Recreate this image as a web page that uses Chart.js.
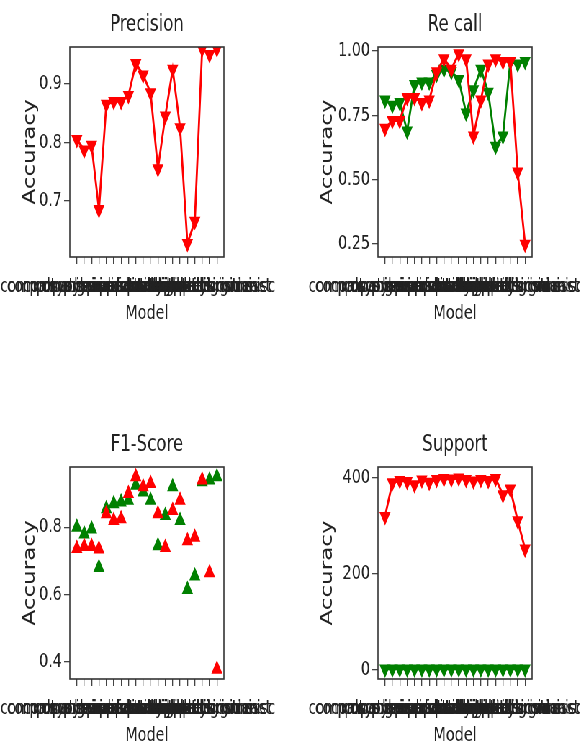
<!DOCTYPE html>
<html>
<head>
<meta charset="utf-8">
<script src="https://cdn.jsdelivr.net/npm/chart.js@4.4.0/dist/chart.umd.min.js"></script>
<style>
  body { margin: 0; background: #fff; overflow: hidden; }
  #wrap { position: relative; width: 806px; height: 756px; transform: scaleX(0.72); transform-origin: 0 0; }
  #wrap canvas { position: absolute; }
</style>
</head>
<body>
<div id="wrap">
  <canvas id="precision" width="403" height="420" style="left:0;top:0"></canvas>
  <canvas id="recall" width="403" height="420" style="left:403px;top:0"></canvas>
  <canvas id="f1" width="403" height="336" style="left:0;top:420px"></canvas>
  <canvas id="support" width="403" height="336" style="left:403px;top:420px"></canvas>
</div>
<script>
const classNames = ['alt.atheism', 'comp.graphics', 'comp.os.ms-windows.misc', 'comp.sys.ibm.pc.hardware',
  'comp.sys.mac.hardware', 'comp.windows.x', 'misc.forsale', 'rec.autos', 'rec.motorcycles',
  'rec.sport.baseball', 'rec.sport.hockey', 'sci.crypt', 'sci.electronics', 'sci.med', 'sci.space',
  'soc.religion.christian', 'talk.politics.guns', 'talk.politics.mideast', 'talk.politics.misc', 'talk.religion.misc'];

const precisionRed = [0.805, 0.787, 0.795, 0.685, 0.865, 0.87, 0.87, 0.88, 0.935, 0.915, 0.885, 0.755, 0.845, 0.925, 0.825, 0.627, 0.665, 0.96, 0.95, 0.96];
const recallRed = [0.70, 0.73, 0.73, 0.82, 0.82, 0.80, 0.81, 0.92, 0.97, 0.93, 0.99, 0.97, 0.67, 0.81, 0.95, 0.97, 0.96, 0.96, 0.53, 0.25];
const recallGreen = [0.81, 0.79, 0.80, 0.69, 0.87, 0.88, 0.88, 0.91, 0.93, 0.92, 0.89, 0.76, 0.85, 0.93, 0.84, 0.63, 0.67, 0.96, 0.95, 0.96];
const f1Red = [0.737, 0.743, 0.743, 0.735, 0.84, 0.82, 0.825, 0.90, 0.95, 0.92, 0.93, 0.84, 0.74, 0.85, 0.88, 0.76, 0.77, 0.94, 0.665, 0.378];
const f1Green = [0.80, 0.78, 0.795, 0.68, 0.855, 0.87, 0.875, 0.88, 0.925, 0.905, 0.88, 0.745, 0.835, 0.92, 0.82, 0.615, 0.655, 0.935, 0.94, 0.95];
const supportRed = [319, 389, 394, 392, 385, 395, 390, 396, 398, 397, 399, 396, 393, 396, 394, 398, 364, 376, 310, 251];
const supportGreen = [1, 1, 1, 1, 1, 1, 1, 1, 1, 1, 1, 1, 1, 1, 1, 1, 1, 1, 1, 1];

const font = 'DejaVu Sans';
const ink = '#222';

// matplotlib style box around the plot area
const frame = {
  id: 'frame',
  afterDatasetsDraw(chart) {
    const a = chart.chartArea;
    const ctx = chart.ctx;
    ctx.save();
    ctx.strokeStyle = '#333';
    ctx.lineWidth = 1.6;
    ctx.strokeRect(a.left, a.top, a.right - a.left, a.bottom - a.top);
    ctx.restore();
  }
};

const toPoints = (vals) => vals.map((v, i) => ({ x: i, y: v }));

const series = (vals, color, down, line) => ({
  data: toPoints(vals),
  borderColor: color,
  backgroundColor: color,
  pointBackgroundColor: color,
  pointBorderColor: color,
  borderWidth: 2.8,
  pointStyle: 'triangle',
  rotation: down ? 180 : 0,
  pointRadius: 7.5,
  pointBorderWidth: 1.5,
  showLine: line,
  clip: 0
});

const makeChart = (id, title, datasets, yMin, yMax, yStep, decimals, col, row) => {
  const yWidth = col == 0 ? 97 : 122;
  const rightPad = col == 0 ? 92 : 67;
  const yTitlePad = col == 0 ? 28 : 38;
  return new Chart(document.getElementById(id), {
    type: 'line',
    data: { datasets: datasets },
    plugins: [frame],
    options: {
      responsive: false,
      animation: false,
      layout: { padding: { left: 0, right: rightPad, top: 0, bottom: row == 0 ? 86 : 0 } },
      plugins: {
        legend: { display: false },
        tooltip: { enabled: false },
        title: {
          display: true,
          text: title,
          fullSize: false,
          color: ink,
          font: { family: font, size: 23, weight: 'normal' },
          padding: { top: 11, bottom: 8.4 }
        }
      },
      scales: {
        x: {
          type: 'linear',
          min: -0.95,
          max: 19.95,
          border: { display: false },
          grid: { display: true, drawOnChartArea: false, drawTicks: true, tickLength: 7, color: '#444', lineWidth: 1.3 },
          ticks: {
            stepSize: 1,
            includeBounds: false,
            autoSkip: false,
            maxRotation: 0,
            minRotation: 0,
            padding: 12,
            color: ink,
            font: { family: font, size: 19 },
            callback: (v) => classNames[v] ?? ''
          },
          title: { display: true, text: 'Model', color: ink, font: { family: font, size: 20 }, padding: { top: 4, bottom: 8 } },
          afterFit: (s) => { s.height = 77; s.paddingLeft = 0; s.paddingRight = 0; }
        },
        y: {
          min: yMin,
          max: yMax,
          border: { display: false },
          grid: { display: true, drawOnChartArea: false, drawTicks: true, tickLength: 8, color: '#444', lineWidth: 1.3 },
          ticks: {
            stepSize: yStep,
            includeBounds: false,
            padding: 3,
            color: ink,
            font: { family: font, size: 20 },
            callback: (v) => Number(v).toFixed(decimals)
          },
          title: { display: true, text: 'Accuracy', color: ink, font: { family: font, size: 23 }, padding: { top: yTitlePad, bottom: 0 } },
          afterFit: (s) => { s.width = yWidth; s.paddingTop = 0; s.paddingBottom = 0; }
        }
      }
    }
  });
};

makeChart('precision', 'Precision', [series(precisionRed, 'red', true, true)], 0.604, 0.963, 0.1, 1, 0, 0);
makeChart('recall', 'Re call', [series(recallRed, 'red', true, true), series(recallGreen, 'green', true, true)], 0.2, 1.016, 0.25, 2, 1, 0);
makeChart('f1', 'F1-Score', [series(f1Red, 'red', false, false), series(f1Green, 'green', false, false)], 0.349, 0.979, 0.2, 1, 0, 1);
makeChart('support', 'Support', [series(supportRed, 'red', true, true), series(supportGreen, 'green', true, true)], -20, 422, 200, 0, 1, 1);
</script>
</body>
</html>
